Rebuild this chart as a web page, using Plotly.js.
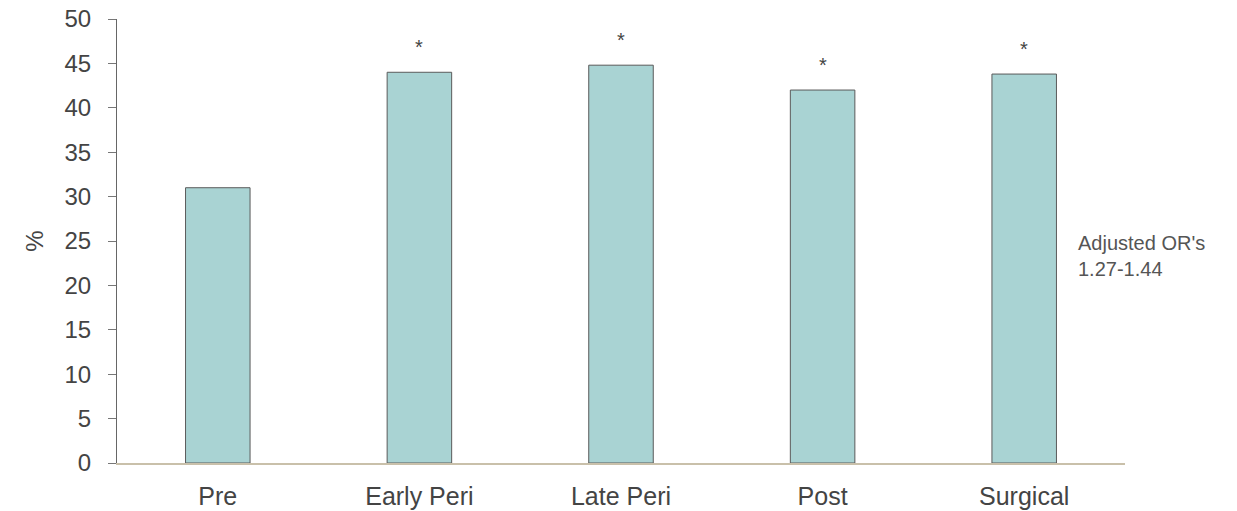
<!DOCTYPE html>
<html>
<head>
<meta charset="utf-8">
<script src="https://cdn.plot.ly/plotly-3.0.1.min.js"></script>
<style>html,body{margin:0;padding:0;background:#fff;}#chart{width:1237px;height:511px;}</style>
</head>
<body>
<div id="chart"></div>
<script>
const categories = ["Pre", "Early Peri", "Late Peri", "Post", "Surgical"];
const values = [31, 44, 44.8, 42, 43.8];
const significant = [false, true, true, true, true];
const yTickVals = [0, 5, 10, 15, 20, 25, 30, 35, 40, 45, 50];
const noteLines = ["Adjusted OR's", "1.27-1.44"];

const font = "Liberation Sans, Arial, sans-serif";

const annotations = [];
categories.forEach((c, i) => {
  if (significant[i]) {
    annotations.push({
      x: c, y: values[i], xref: "x", yref: "y",
      text: "*", showarrow: false, yshift: 25,
      font: {family: font, size: 20, color: "#444"}
    });
  }
});
annotations.push({
  x: 0.951, y: 0.466, xref: "paper", yref: "paper",
  xanchor: "left", yanchor: "middle", align: "left",
  text: noteLines.join("<br>"), showarrow: false,
  font: {family: font, size: 20, color: "#555"}
});

Plotly.newPlot("chart", [{
  type: "bar",
  x: categories,
  y: values,
  width: 0.32,
  marker: {color: "#a9d3d3", line: {color: "#5a5a5a", width: 1}},
  hoverinfo: "skip"
}], {
  width: 1237, height: 511,
  margin: {l: 117, r: 112, t: 19, b: 48},
  paper_bgcolor: "#fff", plot_bgcolor: "#fff",
  showlegend: false,
  font: {family: font, color: "#444"},
  xaxis: {
    showgrid: false, zeroline: false,
    showline: true, linecolor: "#c9c0aa", linewidth: 1.5,
    ticks: "", tickfont: {family: font, size: 25, color: "#444"},
    ticklabelstandoff: 10
  },
  yaxis: {
    range: [0, 50], tickvals: yTickVals,
    showgrid: false, zeroline: false,
    showline: true, linecolor: "#666", linewidth: 1,
    ticks: "outside", ticklen: 8, tickcolor: "#777",
    tickfont: {family: font, size: 24, color: "#444"},
    ticklabelstandoff: 12,
    title: {text: "%", font: {family: font, size: 24, color: "#444"}, standoff: 14}
  },
  annotations: annotations
}, {displayModeBar: false, staticPlot: true});
</script>
</body>
</html>
